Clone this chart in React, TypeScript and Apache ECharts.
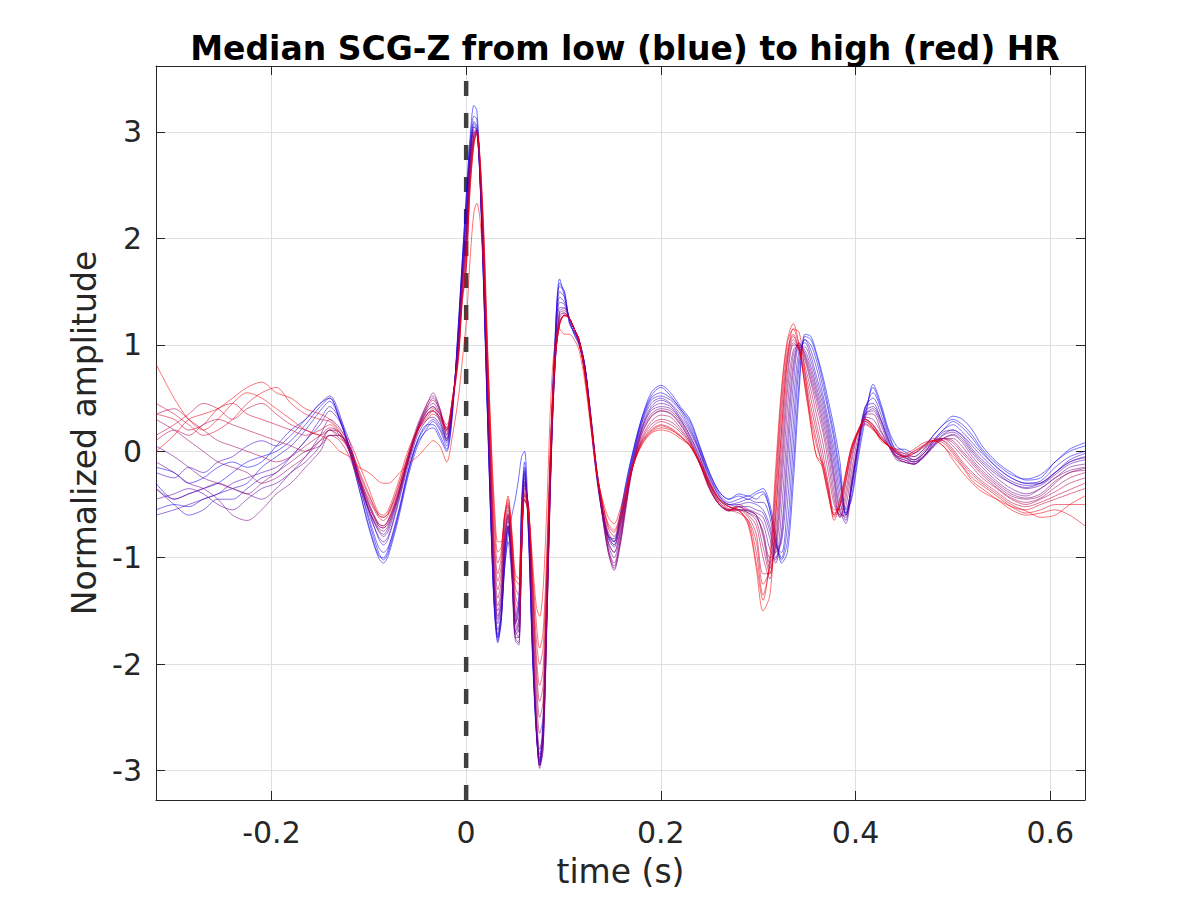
import { useEffect, useRef } from 'react';
import * as echarts from 'echarts';

// Shared time grid (s)
const TIME = [
  -0.3186, -0.30, -0.285, -0.27, -0.255, -0.24, -0.225, -0.21, -0.195, -0.18, -0.165, -0.15, -0.14, -0.13,
  -0.12, -0.11, -0.10, -0.09, -0.085, -0.08, -0.07, -0.06, -0.05, -0.04, -0.034, -0.027, -0.02, -0.014, -0.008, -0.004,
  0, 0.004, 0.008, 0.011, 0.014, 0.018, 0.022, 0.026, 0.029, 0.0325, 0.036, 0.0395, 0.043, 0.047, 0.0505, 0.054, 0.057, 0.06, 0.064, 0.068,
  0.072, 0.0755, 0.079, 0.083, 0.087, 0.091, 0.096, 0.101, 0.106, 0.111, 0.116, 0.122, 0.128, 0.134, 0.14, 0.146, 0.152, 0.158, 0.164, 0.17,
  0.18, 0.19, 0.2, 0.21, 0.22, 0.23, 0.24, 0.25, 0.26, 0.27, 0.28, 0.29, 0.298, 0.305, 0.312, 0.318, 0.324, 0.33, 0.336, 0.342,
  0.348, 0.354, 0.36, 0.366, 0.372, 0.378, 0.384, 0.39, 0.396, 0.403, 0.41, 0.418, 0.426, 0.434, 0.442,
  0.45, 0.46, 0.47, 0.48, 0.49, 0.5, 0.51, 0.52, 0.53, 0.545, 0.56, 0.575, 0.59, 0.605, 0.62, 0.6357,
];

// Median beats, ordered from low HR (blue) to high HR (red)
const TRACE_00 = [
  -0.3, -0.45, -0.4, -0.35, -0.3, -0.2, -0.1, -0.05, 0.0, 0.1, 0.25, 0.42, 0.5, 0.3,
  0.05, -0.3, -0.65, -0.95, -1.02, -0.95, -0.62, -0.22, 0.08, 0.2, 0.22, 0.12, 0.0, 0.35, 1.2, 1.8,
  2.4, 2.95, 3.25, 3.2, 2.7, 1.6, 0.35, -0.8, -1.45, -1.75, -1.55, -1.1, -0.8, -0.6, -0.45, -0.25, -0.05, 0.0, -0.7, -1.8,
  -2.55, -2.85, -2.5, -1.2, 0.1, 1.0, 1.62, 1.45, 1.25, 1.1, 1.0, 0.75, 0.25, -0.25, -0.6, -0.8, -0.82, -0.6, -0.3, -0.05,
  0.3, 0.55, 0.62, 0.55, 0.42, 0.3, 0.05, -0.2, -0.38, -0.45, -0.4, -0.42, -0.38, -0.35, -0.5, -0.78, -1.05, -0.95, -0.3, 0.55,
  1.1, 1.08, 0.92, 0.72, 0.48, 0.22, -0.1, -0.58, -0.45, -0.05, 0.3, 0.63, 0.45, 0.2, 0.05,
  0.0, -0.05, 0.02, 0.15, 0.25, 0.33, 0.3, 0.2, 0.05, -0.1, -0.2, -0.27, -0.25, -0.1, 0.0, 0.05,
];
const TRACE_01 = [
  -0.15, -0.2, -0.3, -0.25, -0.15, -0.1, -0.15, -0.1, 0.05, 0.2, 0.3, 0.45, 0.52, 0.35,
  0.02, -0.35, -0.7, -0.98, -1.0, -0.92, -0.6, -0.2, 0.1, 0.25, 0.25, 0.15, 0.02, 0.38, 1.18, 1.78,
  2.35, 2.9, 3.15, 3.12, 2.65, 1.55, 0.3, -0.82, -1.48, -1.78, -1.6, -1.1, -0.85, -1.2, -1.6, -1.45, -0.45, -0.1, -0.75, -1.85,
  -2.6, -2.92, -2.6, -1.3, 0.05, 0.98, 1.58, 1.5, 1.22, 1.1, 1.0, 0.78, 0.28, -0.22, -0.58, -0.8, -0.85, -0.62, -0.32, -0.06,
  0.3, 0.52, 0.6, 0.52, 0.4, 0.28, 0.04, -0.2, -0.38, -0.45, -0.42, -0.45, -0.4, -0.38, -0.55, -0.85, -1.02, -0.85, -0.15, 0.65,
  1.08, 1.05, 0.9, 0.68, 0.42, 0.15, -0.2, -0.6, -0.42, 0.0, 0.35, 0.6, 0.42, 0.18, 0.02,
  0.02, -0.02, 0.05, 0.15, 0.25, 0.3, 0.25, 0.15, 0.02, -0.12, -0.22, -0.26, -0.22, -0.1, 0.02, 0.08,
];
const TRACE_02 = [
  -0.55, -0.5, -0.52, -0.45, -0.4, -0.35, -0.3, -0.15, -0.05, 0.05, 0.2, 0.38, 0.47, 0.3,
  0.0, -0.35, -0.72, -1.0, -1.05, -0.98, -0.65, -0.25, 0.05, 0.22, 0.28, 0.2, 0.05, 0.4, 1.15, 1.75,
  2.3, 2.85, 3.1, 3.05, 2.6, 1.5, 0.3, -0.85, -1.5, -1.8, -1.6, -1.05, -0.75, -1.05, -1.55, -1.4, -0.5, -0.15, -0.8, -1.9,
  -2.65, -2.95, -2.6, -1.35, 0.0, 0.95, 1.55, 1.5, 1.2, 1.12, 1.02, 0.8, 0.3, -0.2, -0.55, -0.78, -0.85, -0.65, -0.35, -0.08,
  0.28, 0.5, 0.55, 0.5, 0.4, 0.25, 0.02, -0.22, -0.4, -0.48, -0.45, -0.42, -0.45, -0.4, -0.55, -0.85, -1.0, -0.7, 0.05, 0.8,
  1.05, 1.0, 0.85, 0.62, 0.38, 0.1, -0.25, -0.55, -0.35, 0.05, 0.4, 0.55, 0.4, 0.15, 0.0,
  -0.02, -0.08, -0.02, 0.1, 0.2, 0.28, 0.22, 0.12, 0.0, -0.15, -0.25, -0.3, -0.28, -0.15, -0.05, 0.0,
];
const TRACE_03 = [
  -0.35, -0.5, -0.6, -0.55, -0.45, -0.45, -0.35, -0.25, -0.2, -0.05, 0.1, 0.3, 0.42, 0.3,
  0.02, -0.3, -0.62, -0.9, -0.95, -0.9, -0.58, -0.2, 0.1, 0.25, 0.3, 0.22, 0.08, 0.42, 1.12, 1.72,
  2.25, 2.8, 3.08, 3.02, 2.6, 1.55, 0.35, -0.8, -1.45, -1.75, -1.55, -1.02, -0.72, -1.08, -1.62, -1.5, -0.55, -0.18, -0.75, -1.85,
  -2.62, -2.92, -2.62, -1.4, -0.05, 0.9, 1.5, 1.45, 1.22, 1.12, 1.03, 0.8, 0.3, -0.2, -0.55, -0.8, -0.88, -0.68, -0.38, -0.1,
  0.26, 0.48, 0.52, 0.48, 0.38, 0.22, 0.0, -0.24, -0.42, -0.5, -0.48, -0.45, -0.48, -0.48, -0.62, -0.9, -0.95, -0.5, 0.25, 0.88,
  1.05, 0.95, 0.78, 0.55, 0.3, 0.02, -0.32, -0.58, -0.32, 0.08, 0.42, 0.5, 0.35, 0.12, -0.02,
  -0.04, -0.08, -0.02, 0.1, 0.2, 0.25, 0.18, 0.08, -0.02, -0.15, -0.25, -0.3, -0.3, -0.2, -0.08, -0.02,
];
const TRACE_04 = [
  -0.2, -0.25, -0.15, -0.2, -0.1, -0.05, 0.05, 0.1, 0.05, 0.15, 0.3, 0.45, 0.5, 0.32,
  0.1, -0.25, -0.55, -0.82, -0.88, -0.82, -0.5, -0.15, 0.15, 0.3, 0.32, 0.25, 0.1, 0.42, 1.1, 1.7,
  2.2, 2.8, 3.05, 3.0, 2.6, 1.6, 0.4, -0.75, -1.4, -1.72, -1.55, -1.0, -0.7, -1.1, -1.7, -1.6, -0.6, -0.2, -0.7, -1.8,
  -2.6, -2.9, -2.65, -1.45, -0.1, 0.85, 1.45, 1.4, 1.25, 1.15, 1.05, 0.8, 0.32, -0.18, -0.55, -0.82, -0.9, -0.7, -0.4, -0.12,
  0.25, 0.45, 0.5, 0.45, 0.35, 0.2, 0.0, -0.25, -0.42, -0.5, -0.5, -0.48, -0.5, -0.55, -0.7, -0.95, -0.85, -0.3, 0.45, 0.95,
  1.02, 0.9, 0.7, 0.5, 0.25, -0.05, -0.4, -0.6, -0.3, 0.1, 0.42, 0.45, 0.3, 0.1, -0.02,
  -0.05, -0.1, -0.05, 0.08, 0.18, 0.2, 0.15, 0.05, -0.05, -0.18, -0.28, -0.32, -0.3, -0.2, -0.1, -0.05,
];
const TRACE_05 = [
  -0.6, -0.55, -0.5, -0.45, -0.4, -0.3, -0.25, -0.2, -0.15, -0.05, 0.1, 0.25, 0.38, 0.28,
  0.05, -0.25, -0.58, -0.8, -0.85, -0.8, -0.48, -0.12, 0.18, 0.35, 0.38, 0.28, 0.1, 0.45, 1.08, 1.68,
  2.15, 2.78, 3.05, 3.02, 2.62, 1.62, 0.42, -0.7, -1.35, -1.68, -1.5, -0.95, -0.7, -1.12, -1.72, -1.68, -0.7, -0.22, -0.65, -1.75,
  -2.6, -2.95, -2.7, -1.5, -0.12, 0.82, 1.4, 1.38, 1.25, 1.15, 1.05, 0.8, 0.33, -0.16, -0.55, -0.85, -0.95, -0.75, -0.42, -0.14,
  0.22, 0.42, 0.48, 0.44, 0.32, 0.18, -0.02, -0.28, -0.44, -0.5, -0.52, -0.52, -0.55, -0.58, -0.75, -1.0, -0.8, -0.1, 0.62, 0.98,
  0.98, 0.85, 0.65, 0.45, 0.2, -0.12, -0.48, -0.65, -0.32, 0.08, 0.38, 0.42, 0.3, 0.1, -0.04,
  -0.06, -0.1, -0.05, 0.06, 0.16, 0.2, 0.14, 0.02, -0.08, -0.2, -0.3, -0.34, -0.3, -0.2, -0.1, -0.06,
];
const TRACE_06 = [
  -0.45, -0.4, -0.35, -0.4, -0.5, -0.55, -0.45, -0.35, -0.3, -0.2, -0.05, 0.15, 0.3, 0.22,
  0.05, -0.25, -0.55, -0.75, -0.8, -0.75, -0.45, -0.1, 0.2, 0.38, 0.42, 0.3, 0.12, 0.45, 1.05, 1.65,
  2.1, 2.75, 3.02, 3.0, 2.62, 1.65, 0.45, -0.65, -1.3, -1.62, -1.45, -0.9, -0.7, -1.15, -1.75, -1.75, -0.8, -0.25, -0.6, -1.7,
  -2.6, -2.95, -2.75, -1.55, -0.15, 0.8, 1.35, 1.35, 1.25, 1.15, 1.05, 0.8, 0.35, -0.15, -0.55, -0.88, -1.0, -0.8, -0.45, -0.15,
  0.2, 0.4, 0.45, 0.42, 0.3, 0.15, -0.05, -0.3, -0.45, -0.52, -0.55, -0.55, -0.58, -0.62, -0.82, -1.05, -0.75, 0.05, 0.75, 1.0,
  0.95, 0.8, 0.6, 0.4, 0.15, -0.2, -0.55, -0.68, -0.35, 0.05, 0.35, 0.4, 0.28, 0.08, -0.05,
  -0.08, -0.12, -0.05, 0.05, 0.15, 0.18, 0.12, 0.0, -0.1, -0.22, -0.3, -0.35, -0.32, -0.22, -0.12, -0.08,
];
const TRACE_07 = [
  0.05, -0.05, -0.15, -0.25, -0.3, -0.35, -0.4, -0.45, -0.35, -0.2, -0.1, 0.05, 0.2, 0.18,
  0.02, -0.28, -0.55, -0.74, -0.78, -0.72, -0.44, -0.1, 0.2, 0.4, 0.45, 0.35, 0.12, 0.45, 1.02, 1.62,
  2.05, 2.72, 3.0, 3.0, 2.64, 1.68, 0.48, -0.62, -1.28, -1.58, -1.42, -0.88, -0.65, -1.12, -1.78, -1.82, -0.88, -0.28, -0.58, -1.68,
  -2.58, -2.98, -2.8, -1.58, -0.18, 0.78, 1.32, 1.34, 1.25, 1.15, 1.04, 0.79, 0.34, -0.18, -0.6, -0.92, -1.08, -0.85, -0.5, -0.18,
  0.2, 0.38, 0.42, 0.4, 0.3, 0.14, -0.06, -0.3, -0.46, -0.52, -0.55, -0.56, -0.6, -0.68, -0.92, -1.02, -0.55, 0.22, 0.82, 1.02,
  0.92, 0.76, 0.56, 0.35, 0.1, -0.25, -0.58, -0.62, -0.3, 0.08, 0.35, 0.38, 0.25, 0.06, -0.06,
  -0.1, -0.12, -0.06, 0.04, 0.12, 0.16, 0.1, -0.02, -0.12, -0.25, -0.35, -0.4, -0.35, -0.25, -0.15, -0.12,
];
const TRACE_08 = [
  -0.1, -0.2, -0.3, -0.35, -0.45, -0.6, -0.65, -0.55, -0.4, -0.3, -0.15, 0.0, 0.15, 0.15,
  0.0, -0.3, -0.55, -0.72, -0.75, -0.7, -0.42, -0.08, 0.22, 0.42, 0.5, 0.38, 0.15, 0.45, 1.0, 1.6,
  2.0, 2.7, 3.0, 3.0, 2.65, 1.7, 0.5, -0.6, -1.25, -1.55, -1.4, -0.85, -0.62, -1.1, -1.75, -1.8, -0.9, -0.3, -0.55, -1.65,
  -2.55, -2.95, -2.8, -1.6, -0.2, 0.75, 1.3, 1.32, 1.25, 1.15, 1.02, 0.78, 0.32, -0.2, -0.62, -0.95, -1.12, -0.9, -0.55, -0.2,
  0.18, 0.35, 0.4, 0.38, 0.28, 0.12, -0.08, -0.32, -0.48, -0.55, -0.55, -0.58, -0.62, -0.75, -1.0, -0.95, -0.35, 0.4, 0.9, 1.02,
  0.9, 0.72, 0.52, 0.3, 0.05, -0.3, -0.6, -0.6, -0.25, 0.1, 0.35, 0.35, 0.2, 0.05, -0.08,
  -0.1, -0.12, -0.05, 0.05, 0.12, 0.15, 0.08, -0.05, -0.15, -0.28, -0.38, -0.42, -0.35, -0.25, -0.18, -0.15,
];
const TRACE_09 = [
  -0.35, -0.45, -0.4, -0.35, -0.3, -0.35, -0.4, -0.3, -0.2, -0.1, 0.0, 0.05, 0.15, 0.15,
  0.02, -0.25, -0.5, -0.7, -0.72, -0.68, -0.42, -0.08, 0.22, 0.45, 0.52, 0.4, 0.16, 0.46, 0.98, 1.58,
  1.98, 2.68, 2.98, 3.0, 2.68, 1.75, 0.55, -0.55, -1.2, -1.5, -1.35, -0.82, -0.6, -1.05, -1.68, -1.75, -0.92, -0.32, -0.52, -1.58,
  -2.48, -2.88, -2.72, -1.55, -0.18, 0.75, 1.28, 1.3, 1.25, 1.15, 1.02, 0.76, 0.31, -0.2, -0.6, -0.95, -1.1, -0.88, -0.52, -0.2,
  0.16, 0.33, 0.38, 0.36, 0.26, 0.1, -0.1, -0.34, -0.5, -0.56, -0.52, -0.56, -0.6, -0.78, -1.05, -0.9, -0.22, 0.55, 0.95, 1.0,
  0.88, 0.68, 0.48, 0.25, -0.02, -0.38, -0.62, -0.52, -0.18, 0.15, 0.32, 0.3, 0.18, 0.05, -0.06,
  -0.1, -0.12, -0.04, 0.06, 0.12, 0.12, 0.04, -0.08, -0.18, -0.3, -0.4, -0.44, -0.4, -0.28, -0.2, -0.16,
];
const TRACE_10 = [
  0.3, 0.2, 0.1, 0.0, -0.1, -0.15, -0.2, -0.3, -0.25, -0.15, -0.05, 0.1, 0.2, 0.15,
  0.05, -0.22, -0.48, -0.68, -0.7, -0.65, -0.4, -0.05, 0.25, 0.45, 0.55, 0.4, 0.18, 0.48, 0.95, 1.55,
  1.95, 2.65, 2.98, 3.02, 2.7, 1.8, 0.6, -0.5, -1.15, -1.45, -1.3, -0.8, -0.6, -1.0, -1.6, -1.7, -0.95, -0.35, -0.5, -1.5,
  -2.4, -2.8, -2.65, -1.5, -0.15, 0.75, 1.25, 1.3, 1.25, 1.15, 1.02, 0.75, 0.3, -0.2, -0.6, -0.92, -1.05, -0.85, -0.5, -0.18,
  0.15, 0.32, 0.38, 0.35, 0.25, 0.1, -0.1, -0.35, -0.5, -0.55, -0.5, -0.55, -0.6, -0.8, -1.1, -0.85, -0.1, 0.65, 1.0, 0.98,
  0.85, 0.65, 0.42, 0.2, -0.1, -0.45, -0.62, -0.45, -0.1, 0.2, 0.3, 0.25, 0.15, 0.05, -0.05,
  -0.08, -0.1, -0.02, 0.08, 0.12, 0.1, 0.0, -0.1, -0.2, -0.32, -0.42, -0.45, -0.42, -0.3, -0.2, -0.18,
];
const TRACE_11 = [
  0.35, 0.4, 0.3, 0.2, 0.1, 0.05, 0.0, -0.05, -0.1, -0.05, 0.05, 0.15, 0.22, 0.18,
  0.0, -0.25, -0.5, -0.68, -0.7, -0.64, -0.4, -0.08, 0.22, 0.42, 0.48, 0.38, 0.2, 0.5, 0.94, 1.52,
  1.9, 2.62, 2.96, 3.0, 2.72, 1.85, 0.65, -0.42, -1.08, -1.38, -1.22, -0.75, -0.58, -0.98, -1.55, -1.65, -0.95, -0.38, -0.5, -1.4,
  -2.25, -2.65, -2.5, -1.4, -0.08, 0.78, 1.22, 1.28, 1.25, 1.15, 1.02, 0.74, 0.3, -0.2, -0.58, -0.86, -0.95, -0.78, -0.48, -0.18,
  0.12, 0.28, 0.34, 0.32, 0.22, 0.08, -0.12, -0.36, -0.5, -0.56, -0.52, -0.58, -0.65, -0.9, -1.15, -0.75, 0.05, 0.75, 1.02, 0.96,
  0.8, 0.58, 0.34, 0.1, -0.2, -0.5, -0.6, -0.38, -0.05, 0.2, 0.3, 0.24, 0.14, 0.05, -0.04,
  -0.06, -0.08, 0.0, 0.1, 0.12, 0.08, -0.02, -0.12, -0.22, -0.34, -0.44, -0.48, -0.44, -0.34, -0.25, -0.2,
];
const TRACE_12 = [
  0.1, 0.2, 0.15, 0.25, 0.3, 0.25, 0.2, 0.15, 0.1, 0.05, 0.0, 0.1, 0.15, 0.1,
  -0.05, -0.3, -0.52, -0.7, -0.72, -0.66, -0.42, -0.1, 0.2, 0.38, 0.42, 0.35, 0.2, 0.5, 0.92, 1.5,
  1.85, 2.6, 2.95, 3.0, 2.72, 1.9, 0.7, -0.35, -1.0, -1.3, -1.15, -0.7, -0.55, -0.95, -1.5, -1.6, -0.95, -0.4, -0.5, -1.3,
  -2.1, -2.5, -2.35, -1.3, 0.0, 0.8, 1.2, 1.28, 1.25, 1.15, 1.02, 0.72, 0.28, -0.2, -0.55, -0.8, -0.88, -0.72, -0.45, -0.18,
  0.1, 0.25, 0.3, 0.28, 0.2, 0.08, -0.12, -0.35, -0.5, -0.55, -0.52, -0.6, -0.7, -1.0, -1.2, -0.6, 0.2, 0.85, 1.05, 0.95,
  0.75, 0.5, 0.25, 0.0, -0.3, -0.55, -0.55, -0.3, 0.0, 0.2, 0.28, 0.22, 0.12, 0.05, -0.02,
  -0.05, -0.05, 0.02, 0.1, 0.12, 0.05, -0.05, -0.15, -0.25, -0.35, -0.45, -0.5, -0.45, -0.38, -0.3, -0.25,
];
const TRACE_13 = [
  0.15, 0.25, 0.35, 0.45, 0.4, 0.3, 0.4, 0.45, 0.35, 0.25, 0.2, 0.15, 0.2, 0.12,
  0.05, -0.2, -0.42, -0.6, -0.62, -0.58, -0.35, -0.05, 0.2, 0.35, 0.38, 0.32, 0.22, 0.48, 0.9, 1.48,
  1.8, 2.55, 2.92, 3.0, 2.75, 1.95, 0.78, -0.28, -0.92, -1.22, -1.08, -0.66, -0.52, -0.9, -1.42, -1.52, -0.9, -0.42, -0.52, -1.25,
  -2.0, -2.35, -2.2, -1.2, 0.05, 0.82, 1.2, 1.28, 1.25, 1.15, 1.04, 0.72, 0.28, -0.18, -0.52, -0.76, -0.84, -0.68, -0.44, -0.18,
  0.09, 0.22, 0.28, 0.25, 0.18, 0.06, -0.12, -0.34, -0.5, -0.56, -0.55, -0.62, -0.78, -1.15, -1.15, -0.45, 0.35, 0.9, 1.08, 0.95,
  0.7, 0.42, 0.18, -0.08, -0.35, -0.58, -0.52, -0.28, 0.0, 0.18, 0.26, 0.21, 0.12, 0.05, -0.01,
  -0.05, -0.02, 0.04, 0.1, 0.1, 0.02, -0.1, -0.2, -0.28, -0.38, -0.48, -0.52, -0.48, -0.42, -0.36, -0.3,
];
const TRACE_14 = [
  0.35, 0.3, 0.2, 0.25, 0.4, 0.45, 0.35, 0.3, 0.25, 0.2, 0.15, 0.2, 0.25, 0.15,
  0.0, -0.25, -0.45, -0.62, -0.65, -0.6, -0.38, -0.08, 0.18, 0.35, 0.4, 0.35, 0.25, 0.5, 0.9, 1.45,
  1.75, 2.5, 2.9, 2.98, 2.75, 2.0, 0.85, -0.2, -0.85, -1.15, -1.0, -0.62, -0.5, -0.85, -1.35, -1.45, -0.85, -0.45, -0.55, -1.2,
  -1.9, -2.2, -2.05, -1.1, 0.1, 0.85, 1.2, 1.28, 1.25, 1.15, 1.05, 0.72, 0.28, -0.18, -0.5, -0.72, -0.8, -0.65, -0.42, -0.18,
  0.08, 0.2, 0.25, 0.22, 0.15, 0.05, -0.12, -0.32, -0.48, -0.55, -0.58, -0.65, -0.85, -1.25, -1.1, -0.35, 0.45, 0.95, 1.1, 0.95,
  0.65, 0.35, 0.1, -0.15, -0.4, -0.6, -0.5, -0.25, 0.02, 0.18, 0.25, 0.2, 0.12, 0.05, 0.0,
  -0.05, 0.0, 0.05, 0.12, 0.1, 0.0, -0.12, -0.22, -0.3, -0.4, -0.5, -0.55, -0.5, -0.45, -0.4, -0.35,
];
const TRACE_15 = [
  0.45, 0.35, 0.25, 0.15, 0.2, 0.3, 0.45, 0.55, 0.6, 0.45, 0.35, 0.3, 0.28, 0.18,
  0.05, -0.18, -0.4, -0.6, -0.62, -0.58, -0.34, -0.04, 0.2, 0.32, 0.38, 0.32, 0.22, 0.48, 0.88, 1.42,
  1.72, 2.48, 2.9, 3.0, 2.78, 2.05, 0.92, -0.1, -0.72, -1.05, -0.95, -0.6, -0.48, -0.82, -1.28, -1.35, -0.8, -0.45, -0.58, -1.15,
  -1.75, -2.0, -1.85, -1.0, 0.12, 0.85, 1.2, 1.28, 1.25, 1.15, 1.05, 0.72, 0.28, -0.18, -0.48, -0.7, -0.76, -0.62, -0.4, -0.18,
  0.07, 0.19, 0.24, 0.21, 0.14, 0.05, -0.11, -0.31, -0.46, -0.54, -0.56, -0.66, -0.95, -1.35, -1.05, -0.25, 0.55, 1.02, 1.15, 0.98,
  0.62, 0.3, 0.05, -0.12, -0.38, -0.62, -0.5, -0.22, 0.04, 0.2, 0.28, 0.22, 0.12, 0.05, 0.01,
  -0.04, 0.0, 0.06, 0.1, 0.08, -0.02, -0.14, -0.25, -0.32, -0.42, -0.52, -0.58, -0.55, -0.5, -0.5, -0.5,
];
const TRACE_16 = [
  0.0, 0.15, 0.3, 0.35, 0.4, 0.5, 0.6, 0.65, 0.55, 0.5, 0.4, 0.35, 0.3, 0.2,
  0.1, -0.12, -0.35, -0.58, -0.6, -0.55, -0.3, 0.0, 0.2, 0.3, 0.35, 0.3, 0.2, 0.45, 0.85, 1.4,
  1.7, 2.45, 2.88, 3.0, 2.8, 2.1, 1.0, 0.0, -0.6, -0.95, -0.9, -0.6, -0.45, -0.8, -1.2, -1.25, -0.75, -0.45, -0.6, -1.1,
  -1.6, -1.85, -1.7, -0.9, 0.15, 0.85, 1.18, 1.27, 1.25, 1.15, 1.05, 0.72, 0.28, -0.18, -0.48, -0.68, -0.74, -0.6, -0.4, -0.18,
  0.06, 0.18, 0.22, 0.2, 0.14, 0.05, -0.1, -0.3, -0.45, -0.52, -0.55, -0.68, -1.05, -1.4, -1.0, -0.15, 0.6, 1.05, 1.2, 1.0,
  0.6, 0.25, -0.05, -0.1, -0.35, -0.65, -0.5, -0.2, 0.05, 0.2, 0.3, 0.25, 0.12, 0.05, 0.02,
  -0.02, 0.02, 0.08, 0.1, 0.05, -0.05, -0.15, -0.28, -0.35, -0.45, -0.55, -0.6, -0.58, -0.55, -0.6, -0.7,
];
const TRACE_17 = [
  0.82, 0.5, 0.3, 0.2, 0.3, 0.45, 0.55, 0.5, 0.4, 0.3, 0.2, 0.15, 0.1, 0.0,
  -0.05, -0.15, -0.2, -0.28, -0.3, -0.3, -0.22, -0.12, -0.05, 0.05, 0.1, 0.05, -0.1, 0.15, 0.5, 0.85,
  1.2, 1.8, 2.25, 2.33, 2.2, 1.7, 0.9, 0.05, -0.5, -0.85, -0.85, -0.6, -0.42, -0.75, -1.15, -1.2, -0.7, -0.4, -0.55, -1.0,
  -1.45, -1.55, -1.3, -0.5, 0.5, 1.0, 1.15, 1.1, 1.1, 1.05, 0.95, 0.65, 0.22, -0.2, -0.45, -0.62, -0.68, -0.55, -0.35, -0.15,
  0.05, 0.17, 0.2, 0.18, 0.12, 0.05, -0.1, -0.28, -0.45, -0.52, -0.55, -0.7, -1.1, -1.5, -1.35, -0.6, 0.2, 0.85, 1.15, 1.12,
  0.75, 0.25, -0.05, -0.15, -0.42, -0.6, -0.45, -0.2, 0.05, 0.2, 0.3, 0.22, 0.1, 0.05, 0.0,
  -0.05, -0.02, 0.05, 0.1, 0.05, -0.08, -0.2, -0.3, -0.38, -0.45, -0.52, -0.56, -0.62, -0.6, -0.5, -0.42,
];

const TRACES = [
  TRACE_00, TRACE_01, TRACE_02, TRACE_03, TRACE_04, TRACE_05, TRACE_06, TRACE_07, TRACE_08,
  TRACE_09, TRACE_10, TRACE_11, TRACE_12, TRACE_13, TRACE_14, TRACE_15, TRACE_16, TRACE_17,
];

const TITLE = 'Median SCG-Z from low (blue) to high (red) HR';
const X_NAME = 'time (s)';
const Y_NAME = 'Normalized amplitude';
const X_RANGE = [-0.3186, 0.6357];
const Y_RANGE = [-3.276, 3.62];
const ONSET_TIME = 0;

const FONT = 'DejaVu Sans';
const AXIS_COLOR = '#262626';

export default function App() {
  const ref = useRef<HTMLDivElement>(null);

  useEffect(() => {
    if (!ref.current) return;
    const chart = echarts.init(ref.current, null, { renderer: 'svg' });
    const n = TRACES.length;

    const series: any[] = [
      {
        type: 'line',
        data: [[ONSET_TIME, Y_RANGE[0]], [ONSET_TIME, Y_RANGE[1]]],
        symbol: 'none',
        silent: true,
        lineStyle: { color: '#404040', width: 4.5, type: [15, 17] },
        z: 1,
      },
    ];
    TRACES.forEach((vals, k) => {
      const f = k / (n - 1);
      const color = `rgba(${Math.round(255 * f)},0,${Math.round(255 * (1 - f))},0.55)`;
      series.push({
        type: 'line',
        data: TIME.map((t, i) => [t, vals[i]]),
        symbol: 'none',
        showSymbol: false,
        smooth: 0.3,
        silent: true,
        lineStyle: { color, width: 1 },
        z: 2,
      });
    });

    const baseAxis = (extra: any) => ({
      type: 'value',
      splitNumber: 5,
      axisLine: { show: true, onZero: false, lineStyle: { color: AXIS_COLOR, width: 1 } },
      axisTick: { show: true, inside: true, length: 9, lineStyle: { color: AXIS_COLOR, width: 1 } },
      ...extra,
    });

    chart.setOption({
      animation: false,
      backgroundColor: '#ffffff',
      title: {
        text: TITLE,
        left: 620,
        top: 27,
        textAlign: 'center',
        textStyle: { fontFamily: FONT, fontSize: 33, fontWeight: 'bold', color: '#000000' },
      },
      grid: { left: 156, right: 115, top: 66, bottom: 100, containLabel: false },
      xAxis: [
        baseAxis({
          min: X_RANGE[0],
          max: X_RANGE[1],
          position: 'bottom',
          axisLabel: {
            fontFamily: FONT, fontSize: 30, color: AXIS_COLOR, margin: 17,
            showMinLabel: false, showMaxLabel: false,
          },
          splitLine: { show: true, lineStyle: { color: '#dfdfdf', width: 1 } },
          name: X_NAME,
          nameLocation: 'middle',
          nameGap: 55,
          nameTextStyle: { fontFamily: FONT, fontSize: 33, color: AXIS_COLOR },
        }),
        baseAxis({
          min: X_RANGE[0],
          max: X_RANGE[1],
          position: 'top',
          axisLabel: { show: false },
          splitLine: { show: false },
        }),
      ],
      yAxis: [
        baseAxis({
          min: Y_RANGE[0],
          max: Y_RANGE[1],
          position: 'left',
          axisLabel: {
            fontFamily: FONT, fontSize: 30, color: AXIS_COLOR, margin: 14,
            showMinLabel: false, showMaxLabel: false,
          },
          splitLine: { show: true, lineStyle: { color: '#dfdfdf', width: 1 } },
          name: Y_NAME,
          nameLocation: 'middle',
          nameGap: 54,
          nameTextStyle: { fontFamily: FONT, fontSize: 33, color: AXIS_COLOR },
        }),
        baseAxis({
          min: Y_RANGE[0],
          max: Y_RANGE[1],
          position: 'right',
          axisLabel: { show: false },
          splitLine: { show: false },
        }),
      ],
      series,
    });

    return () => chart.dispose();
  }, []);

  return <div ref={ref} style={{ position: 'fixed', left: 0, top: 0, width: 1200, height: 900 }} />;
}
